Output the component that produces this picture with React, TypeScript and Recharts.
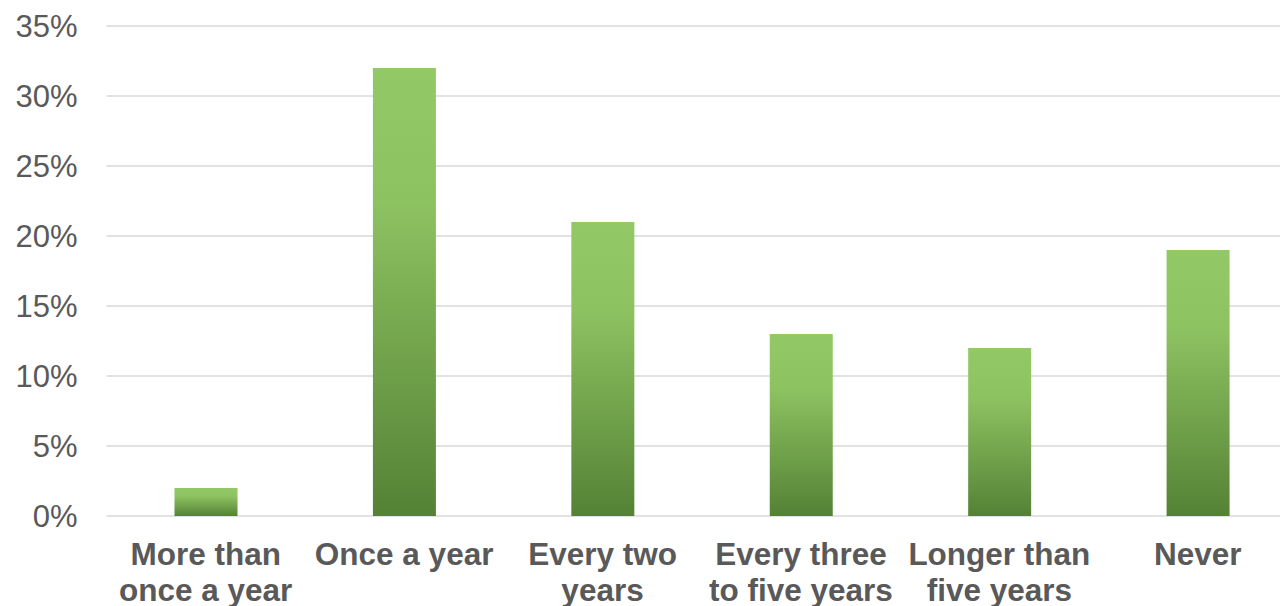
import React from "react";
import { BarChart, Bar, XAxis, YAxis, CartesianGrid } from "recharts";

// How often respondents do it — share of answers per frequency
const categories: string[][] = [
  ["More than", "once a year"],
  ["Once a year"],
  ["Every two", "years"],
  ["Every three", "to five years"],
  ["Longer than", "five years"],
  ["Never"],
];
const shares: number[] = [2, 32, 21, 13, 12, 19];
const yTicks: number[] = [0, 5, 10, 15, 20, 25, 30, 35];

const data = categories.map((lines, i) => ({
  name: lines.join(" "),
  lines,
  value: shares[i],
}));

const FONT = "'Liberation Sans', Arial, sans-serif";
const TEXT = "#595959";

const CategoryTick = (props: any) => {
  const { x, y, index } = props;
  const lines: string[] = data[index]?.lines ?? [props.payload.value];
  return (
    <text
      x={x}
      y={y}
      textAnchor="middle"
      fill={TEXT}
      fontFamily={FONT}
      fontSize={31.5}
      fontWeight="bold"
    >
      {lines.map((t, i) => (
        <tspan key={i} x={x} dy={i === 0 ? 49 : 36}>
          {t}
        </tspan>
      ))}
    </text>
  );
};

export default function App() {
  return (
    <div
      style={{
        position: "absolute",
        left: 0,
        top: 0,
        width: 1280,
        height: 606,
        overflow: "hidden",
        background: "#ffffff",
      }}
    >
      <BarChart
        width={1297}
        height={606}
        data={data}
        margin={{ top: 26, right: 0, bottom: 0, left: 0 }}
        barSize={63}
      >
        <defs>
          <linearGradient id="greenFill" x1="0" y1="0" x2="0" y2="1">
            <stop offset="0%" stopColor="#92C966" />
            <stop offset="30%" stopColor="#8DC261" />
            <stop offset="100%" stopColor="#548235" />
          </linearGradient>
        </defs>
        <CartesianGrid
          vertical={false}
          stroke="#D9D9D9"
          strokeWidth={1.3}
        />
        <XAxis
          dataKey="name"
          axisLine={false}
          tickLine={false}
          tickSize={0}
          tickMargin={0}
          height={90}
          interval={0}
          tick={<CategoryTick />}
        />
        <YAxis
          domain={[0, 35]}
          ticks={yTicks}
          axisLine={false}
          tickLine={false}
          tickSize={0}
          tickMargin={29}
          width={106.5}
          tickFormatter={(v: number) => `${v}%`}
          tick={{ fill: TEXT, fontFamily: FONT, fontSize: 31 }}
        />
        <Bar dataKey="value" fill="url(#greenFill)" isAnimationActive={false} />
      </BarChart>
    </div>
  );
}
